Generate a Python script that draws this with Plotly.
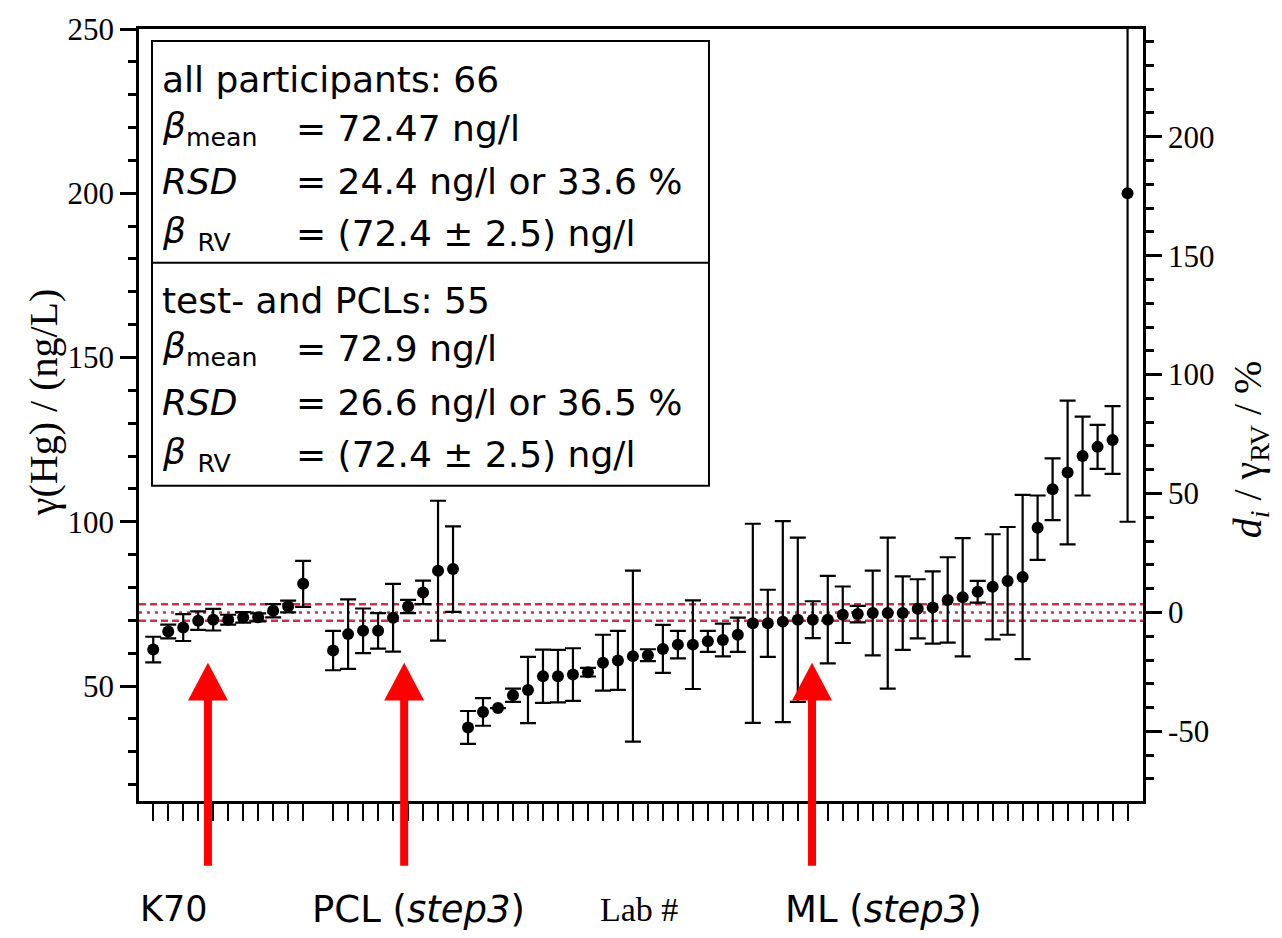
import plotly.graph_objects as go

# Lab positions along the x axis (position 12 is left empty between groups)
lab_pos = list(range(1, 12)) + list(range(13, 67))

# Mass concentration of Hg reported by each lab, ng/L
hg_value = [
    61.1, 66.6, 67.8, 69.9, 70.2, 70.2, 70.9, 70.9, 72.9, 74.2, 81.1,
    60.8, 65.8, 66.8, 66.8, 70.8, 74.2, 78.5, 85.1, 85.6,
    37.4, 42.1, 43.3, 47.2, 48.8, 53.0, 53.0, 53.5, 54.2, 57.1, 57.8,
    59.1, 59.4, 61.3, 62.6, 62.6, 63.6, 64.0, 65.6, 69.1, 69.1, 69.6,
    70.2, 70.2, 70.2, 71.7, 71.9, 72.2, 72.2, 72.2, 73.5, 73.9, 76.2,
    77.0, 78.7, 80.2, 82.0, 83.2, 98.2, 109.9, 115.0, 120.0, 122.8,
    124.9, 200.0,
]

# Expanded uncertainty reported with each value, ng/L
hg_unc = [
    3.9, 2.1, 4.1, 2.8, 3.3, 1.5, 1.6, 1.2, 2.0, 1.8, 7.0,
    6.0, 10.6, 6.8, 5.4, 10.3, 2.0, 3.6, 21.3, 13.0,
    5.0, 4.2, 0.0, 2.0, 10.1, 8.1, 8.0, 8.0, 1.3, 8.5, 9.0,
    26.0, 1.8, 7.3, 4.2, 13.5, 3.2, 5.0, 5.2, 30.3, 10.2, 30.6,
    25.0, 5.6, 13.3, 8.6, 2.5, 12.9, 23.0, 11.2, 9.0, 11.0, 13.0,
    18.0, 3.3, 16.0, 16.4, 25.0, 9.8, 9.4, 21.9, 12.0, 6.7,
    10.3, 100.0,
]

# Reference value and its uncertainty, ng/L
ref_value = 72.4
ref_unc = 2.5

# Axis ranges and tick labels
y_range = [15, 250]
x_range = [0.05, 67.03]
y2_range = [(y_range[0] - ref_value) / ref_value * 100,
            (y_range[1] - ref_value) / ref_value * 100]
y2_ticks = [-50, 0, 50, 100, 150, 200]
y2_ticktext = ["-50", "0", "50", "100", "150", "200"]

# Arrow markers below the data (x position in lab units)
arrow_x = [4.65, 17.74, 44.95]
bottom_labels = [
    (-0.001, "K70", "DejaVu Sans", 35),
    (0.1703, "PCL (<i>step3</i>)", "DejaVu Sans", 37),
    (0.4572, "Lab #", "Liberation Serif", 34),
    (0.6414, "ML (<i>step3</i>)", "DejaVu Sans", 37),
]

# Statistics text block: (y in paper coords, label, value)
stats_rows = [
    (0.9340, "all participants: 66", ""),
    (0.8711, "<i>β</i><sub>mean</sub>", "= 72.47 ng/l"),
    (0.8028, "<i>RSD</i>", "= 24.4 ng/l or 33.6 %"),
    (0.7345, "<i>β</i> <sub>RV</sub>", "= (72.4 ± 2.5) ng/l"),
    (0.6488, "test- and PCLs: 55", ""),
    (0.5863, "<i>β</i><sub>mean</sub>", "= 72.9 ng/l"),
    (0.5168, "<i>RSD</i>", "= 26.6 ng/l or 36.5 %"),
    (0.4491, "<i>β</i> <sub>RV</sub>", "= (72.4 ± 2.5) ng/l"),
]

rel_dev = [(v - ref_value) / ref_value * 100 for v in hg_value]

fig = go.Figure()

fig.add_trace(go.Scatter(
    x=lab_pos, y=hg_value, mode="markers",
    marker=dict(color="black", size=12),
    error_y=dict(type="data", array=hg_unc, visible=True,
                 color="black", thickness=2.2, width=8),
    showlegend=False, hoverinfo="x+y",
))

# Relative deviation on the secondary axis (transparent, keeps axis active)
fig.add_trace(go.Scatter(
    x=lab_pos, y=rel_dev, yaxis="y2", mode="markers",
    marker=dict(color="rgba(0,0,0,0)", size=1),
    showlegend=False, hoverinfo="skip",
))

red = "#cc2f4f"
for val, dash in [(ref_value + ref_unc, "7px,4px"),
                  (ref_value, "3px,5px"),
                  (ref_value - ref_unc, "7px,4px")]:
    fig.add_shape(type="line", xref="paper", yref="y", x0=0, x1=1,
                  y0=val, y1=val, layer="below",
                  line=dict(color=red, width=2.5, dash=dash))

# Statistics box with divider
box_l, box_r = 0.01295, 0.5677
fig.add_shape(type="rect", xref="paper", yref="paper",
              x0=box_l, x1=box_r, y0=0.4085, y1=0.9845,
              line=dict(color="black", width=2), fillcolor="white")
fig.add_shape(type="line", xref="paper", yref="paper",
              x0=box_l, x1=box_r, y0=0.6972, y1=0.6972,
              line=dict(color="black", width=2))

for y, label, value in stats_rows:
    fig.add_annotation(x=0.021, y=y, xref="paper", yref="paper",
                       text=label, showarrow=False, xanchor="left",
                       yanchor="middle",
                       font=dict(family="DejaVu Sans", size=36, color="black"))
    if value:
        fig.add_annotation(x=0.1545, y=y, xref="paper", yref="paper",
                           text=value, showarrow=False, xanchor="left",
                           yanchor="middle",
                           font=dict(family="DejaVu Sans", size=36,
                                     color="black"))

# Red arrows pointing at the labs of interest
head_half = 1.334
shaft_half = 0.267
for cx in arrow_x:
    fig.add_shape(type="rect", xref="x", yref="paper",
                  x0=cx - shaft_half, x1=cx + shaft_half,
                  y0=-0.0838, y1=0.135,
                  line=dict(width=0), fillcolor="#ff0000")
    fig.add_shape(type="path", xref="x", yref="paper",
                  path=f"M {cx - head_half},0.1302 L {cx + head_half},0.1302 "
                       f"L {cx},0.1791 Z",
                  line=dict(width=0), fillcolor="#ff0000")

for x, text, fam, size in bottom_labels:
    fig.add_annotation(x=x, y=-0.1405, xref="paper", yref="paper",
                       text=text, showarrow=False, xanchor="left",
                       yanchor="middle",
                       font=dict(family=fam, size=size, color="black"))

# Axis titles
fig.add_annotation(x=-0.0955, y=0.5168, xref="paper", yref="paper",
                   text="γ(Hg) / (ng/L)", textangle=-90, showarrow=False,
                   xanchor="center", yanchor="middle",
                   font=dict(family="Liberation Serif", size=40, color="black"))
fig.add_annotation(x=1.1065, y=0.4555, xref="paper", yref="paper",
                   text="<i>d</i><sub><i>i</i></sub> / γ<sub>RV</sub> / %",
                   textangle=-90, showarrow=False,
                   xanchor="center", yanchor="middle",
                   font=dict(family="Liberation Serif", size=40, color="black"))

tick_font = dict(family="Liberation Serif", size=31, color="black")

fig.update_layout(
    width=1282, height=938,
    margin=dict(l=139, r=139, t=25, b=137),
    paper_bgcolor="white", plot_bgcolor="white",
    showlegend=False,
    xaxis=dict(range=x_range, tickvals=lab_pos, showticklabels=False,
               ticks="outside", ticklen=17, tickwidth=2.2, tickcolor="black",
               showline=True, linewidth=2.5, linecolor="black", mirror=True,
               showgrid=False, zeroline=False),
    yaxis=dict(range=y_range, tick0=0, dtick=50, ticks="outside",
               ticklen=16, tickwidth=2.5, tickcolor="black",
               minor=dict(dtick=10, ticklen=8, tickwidth=2.5,
                          ticks="outside", tickcolor="black"),
               showline=True, linewidth=2.5, linecolor="black",
               showgrid=False, zeroline=False, tickfont=tick_font),
    yaxis2=dict(range=y2_range, overlaying="y", side="right",
                tickvals=y2_ticks, ticktext=y2_ticktext,
                ticks="outside", ticklen=16, tickwidth=2.5,
                tickcolor="black",
                minor=dict(dtick=10, tick0=0, ticklen=8, tickwidth=2.5,
                           ticks="outside", tickcolor="black"),
                showline=True, linewidth=2.5, linecolor="black",
                showgrid=False, zeroline=False, tickfont=tick_font),
)

fig.write_html("out.html")
